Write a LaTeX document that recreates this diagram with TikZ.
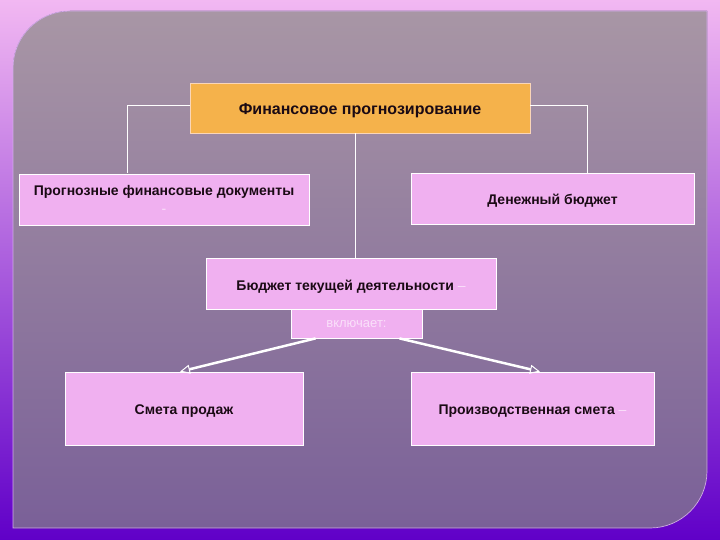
\documentclass[tikz,border=0pt]{standalone}
\usepackage{fontspec}
\setmainfont{Liberation Sans}
\usetikzlibrary{arrows.meta}
\definecolor{bgtop}{RGB}{242,184,242}
\definecolor{bgmid}{RGB}{170,96,226}
\definecolor{bgbot}{RGB}{96,0,200}
\definecolor{paneltop}{RGB}{168,150,165}
\definecolor{panelbot}{RGB}{122,96,152}
\definecolor{boxpink}{RGB}{240,176,240}
\definecolor{boxorange}{RGB}{245,178,75}
\definecolor{txtdark}{RGB}{26,10,20}
\definecolor{txtlight}{RGB}{250,224,250}
\newcommand{\lowtxt}[2]{\raisebox{0pt}[\dimexpr\height+#1\relax]{#2}}
\tikzset{
  pbox/.style={draw=white, line width=0.8pt, fill=boxpink, text=txtdark,
    font=\bfseries\fontsize{14}{18}\selectfont, align=center, inner sep=0pt},
  obox/.style={pbox, fill=boxorange, draw={rgb,255:red,250;green,214;blue,184},
    font=\bfseries\fontsize{16}{18}\selectfont},
  conn/.style={draw=white, line width=0.9pt},
  arr/.style={draw=white, line width=2.5pt,
    -{Triangle[open, length=10pt, width=9pt, line width=1pt]}}
}
\begin{document}
\begin{tikzpicture}[x=1pt, y=-1pt]
\useasboundingbox (0,0) rectangle (720,540);
\fill[top color=bgtop, middle color=bgmid, bottom color=bgbot] (0,0) rectangle (720,540);
\fill[top color=paneltop, bottom color=panelbot]
  (13,528) -- (13,68) arc(180:270:57) -- (707,11) -- (707,471) arc(0:90:57) -- cycle;
\draw[draw={rgb,255:red,210;green,170;blue,235}, line width=0.7pt]
  (13,528) -- (13,68) arc(180:270:57) -- (707,11) -- (707,471) arc(0:90:57) -- cycle;

\node[obox, minimum width=340pt, minimum height=50pt] (title) at (360,108) {\lowtxt{5pt}{Финансовое прогнозирование}};
\node[pbox, minimum width=290pt, minimum height=51pt] (left) at (164,199.5)
  {Прогнозные финансовые документы\\{\color{txtlight}\mdseries -}};
\node[pbox, minimum width=283pt, minimum height=51pt] (right) at (552.5,198.5) {\lowtxt{4pt}{Денежный бюджет}};
\node[pbox, minimum width=290pt, minimum height=51pt] (mid) at (351,283.5)
  {\lowtxt{6pt}{Бюджет текущей деятельности {\color{txtlight}\mdseries –}}};
\node[pbox, minimum width=131pt, minimum height=29pt, text=txtlight,
  font=\mdseries\fontsize{13}{15}\selectfont] (small) at (356.5,323.5) {\lowtxt{2pt}{включает:}};
\node[pbox, minimum width=238pt, minimum height=73pt] (sl) at (184,408.5) {\lowtxt{6pt}{Смета продаж}};
\node[pbox, minimum width=243pt, minimum height=73pt] (sr) at (532.5,408.5)
  {\lowtxt{6pt}{Производственная смета {\color{txtlight}\mdseries –}}};

\coordinate (lc) at (127,173);
\coordinate (rc) at (587,173);
\draw[conn] (title.west) ++(0,-3) -| (lc);
\draw[conn] (title.east) ++(0,-3) -| (rc);
\draw[conn] ([xshift=-5pt]title.south) -- ([xshift=-5pt]title.south |- mid.north);

\draw[arr] ([xshift=-41pt]small.south) -- ([xshift=-4pt]sl.north);
\draw[arr] ([xshift=43pt]small.south) -- ([xshift=7.5pt]sr.north);
\end{tikzpicture}
\end{document}
